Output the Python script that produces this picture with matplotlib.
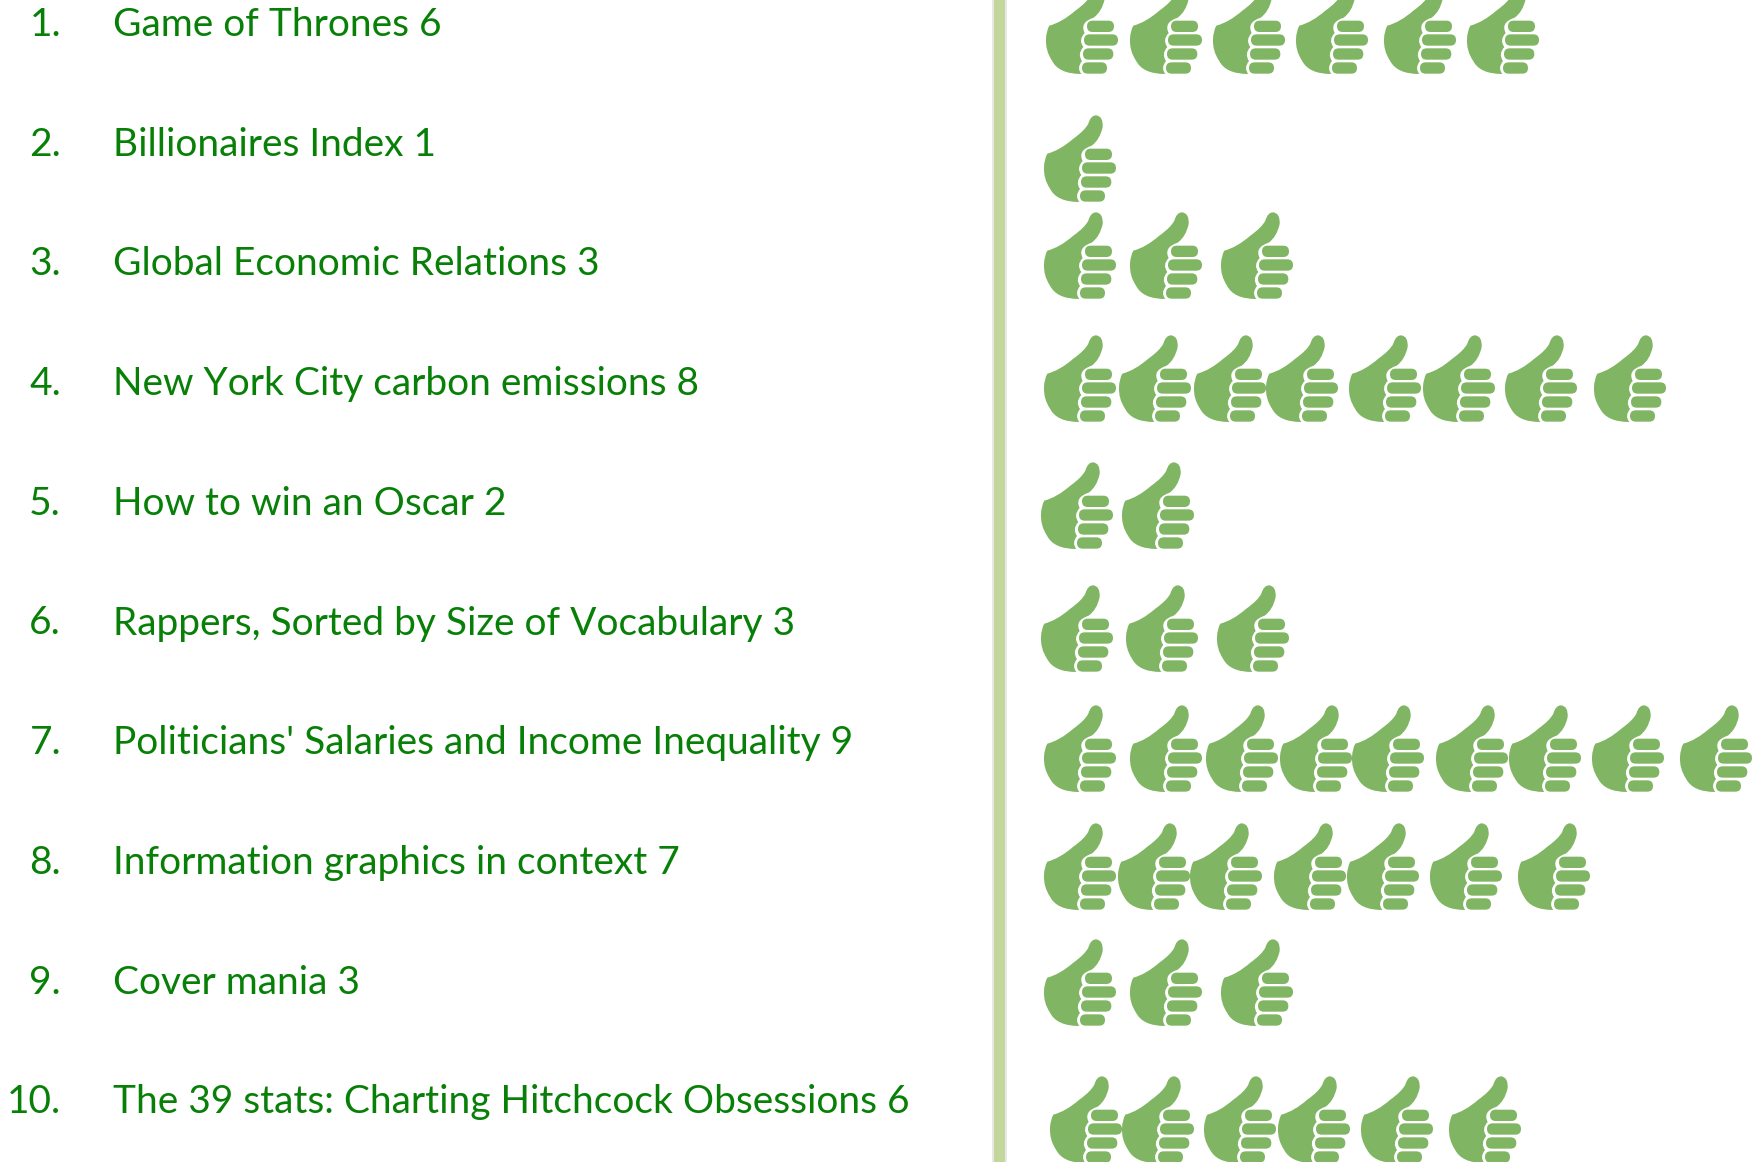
import matplotlib
matplotlib.use('Agg')
import matplotlib.pyplot as plt
import numpy as np
from matplotlib.path import Path
from matplotlib.patches import PathPatch, Rectangle

# chart values
titles = ['Game of Thrones', 'Billionaires Index', 'Global Economic Relations',
          'New York City carbon emissions', 'How to win an Oscar',
          'Rappers, Sorted by Size of Vocabulary',
          "Politicians' Salaries and Income Inequality",
          'Information graphics in context', 'Cover mania',
          'The 39 stats: Charting Hitchcock Obsessions']
votes = [6, 1, 3, 8, 2, 3, 9, 7, 3, 6]

# hand placed layout of the icons, in pixels of the picture
row_first_x = [1046, 1044, 1044, 1044, 1041, 1041, 1044, 1044, 1044, 1050]
row_bottom = [74, 202, 299, 422, 549, 672, 792, 910, 1026, 1163]
row_steps = [[84, 83, 83, 88, 83], [], [86, 91],
             [75, 75, 72, 83, 74, 82, 89], [81], [85, 91],
             [86, 76, 74, 72, 84, 73, 83, 88],
             [74, 72, 84, 73, 83, 88], [86, 91],
             [72, 82, 74, 83, 88]]

TEXT_GREEN = '#088008'
THUMB_GREEN = '#80b563'
BAR_GREEN = '#c3d69b'

# icon outline traced on a 3x crop: start point, then (control, end) pairs
palm_start = (178, 305)
palm_curves = [((110, 305), (90, 265)), ((70, 235), (72, 200)), ((73, 175), (82, 160)),
               ((120, 150), (160, 115)), ((195, 90), (205, 70)), ((212, 45), (228, 45)),
               ((250, 47), (248, 80)), ((240, 118), (215, 136)), ((172, 150), (188, 182)),
               ((168, 203), (184, 224)), ((165, 245), (180, 266)), ((163, 287), (178, 305))]
fingers = [(195, 276, 145, 179), (186, 288, 186, 220), (183, 274, 228, 262), (180, 255, 270, 304)]
ICON_LEFT, ICON_BOTTOM = 72, 305


def rounded_box(x0, x1, y0, y1):
    r = (y1 - y0) / 2
    verts = [(x0 + r, y0), (x1 - r, y0), (x1, y0), (x1, y0 + r), (x1, y1), (x1 - r, y1),
             (x0 + r, y1), (x0, y1), (x0, y0 + r), (x0, y0), (x0 + r, y0), (x0 + r, y0)]
    codes = [Path.MOVETO, Path.LINETO, Path.CURVE3, Path.CURVE3, Path.CURVE3, Path.CURVE3,
             Path.LINETO, Path.CURVE3, Path.CURVE3, Path.CURVE3, Path.CURVE3, Path.CLOSEPOLY]
    return verts, codes


def thumb_path():
    verts = [palm_start]
    codes = [Path.MOVETO]
    for ctrl, end in palm_curves:
        verts += [ctrl, end]
        codes += [Path.CURVE3, Path.CURVE3]
    verts.append(palm_start)
    codes.append(Path.CLOSEPOLY)
    for box in fingers:
        v, c = rounded_box(*box)
        verts += v
        codes += c
    # from crop pixels to picture pixels, origin at the icon's lower left
    return (np.array(verts, dtype=float) - [ICON_LEFT, ICON_BOTTOM]) / 3, codes


thumb_verts, thumb_codes = thumb_path()

fig = plt.figure(figsize=(17.64, 11.62), dpi=100)
ax = fig.add_axes([0, 0, 1, 1])
ax.set_xlim(0, 1764)
ax.set_ylim(1162, 0)
ax.axis('off')

# divider with its soft shadow
ax.add_patch(Rectangle((992, 0), 15, 1162, color='#e8e8e8', lw=0))
ax.add_patch(Rectangle((994, 0), 11, 1162, color=BAR_GREEN, lw=0))

for i, (title, n) in enumerate(zip(titles, votes)):
    y = 36 + i * 119.7
    ax.text(61, y, f'{i + 1}.', color=TEXT_GREEN, fontsize=28, family='Lato', ha='right', va='baseline')
    ax.text(113, y, f'{title} {n}', color=TEXT_GREEN, fontsize=28, family='Lato', ha='left', va='baseline')
    x = row_first_x[i]
    for k in range(n):
        p = thumb_verts + [x, row_bottom[i]]
        ax.add_patch(PathPatch(Path(p, thumb_codes), facecolor=THUMB_GREEN, edgecolor='none'))
        if k < n - 1:
            x += row_steps[i][k]

fig.savefig('out.png', dpi=100)
